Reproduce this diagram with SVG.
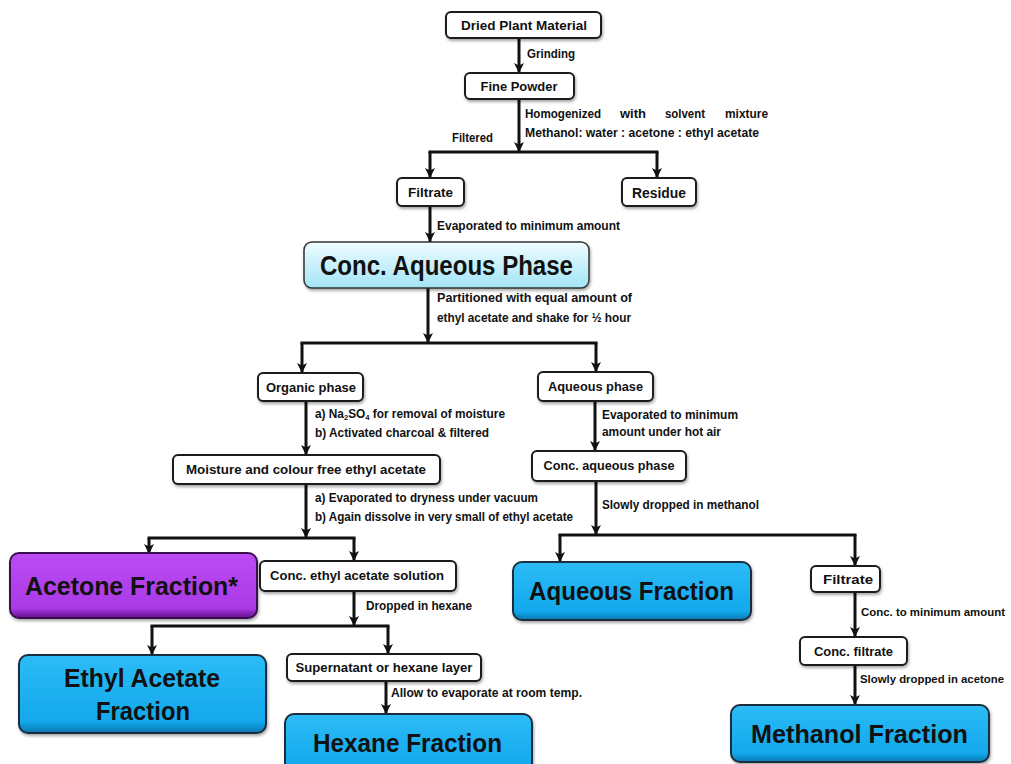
<svg xmlns="http://www.w3.org/2000/svg" width="1011" height="764" viewBox="0 0 1011 764">
<defs>
<style>
.box{fill:#fff;stroke:#1a1a1a;stroke-width:2}
.bt{font-family:"Liberation Sans",Arial,sans-serif;font-weight:bold;font-size:13px;fill:#111;text-anchor:middle}
.lb{font-family:"Liberation Sans",Arial,sans-serif;font-weight:bold;font-size:12.5px;fill:#111}
.big{font-family:"Liberation Sans",Arial,sans-serif;font-weight:bold;font-size:26px;fill:#111;text-anchor:middle}
.con{fill:none;stroke:#111;stroke-width:3}
.arr{marker-end:url(#ah)}
.blue{fill:url(#gBlue);stroke:#1b2f3d;stroke-width:2}
.purple{fill:url(#gPurple);stroke:#3a1050;stroke-width:2}
.cyan{fill:url(#gCyan);stroke:#333;stroke-width:1.5}
</style>
<linearGradient id="gBlue" x1="0" y1="0" x2="0" y2="1">
<stop offset="0" stop-color="#2dbcf6"/>
<stop offset="0.85" stop-color="#12a8ec"/>
<stop offset="1" stop-color="#0b78b0"/>
</linearGradient>
<linearGradient id="gPurple" x1="0" y1="0" x2="0" y2="1">
<stop offset="0" stop-color="#bd4cf4"/>
<stop offset="0.85" stop-color="#a93ae6"/>
<stop offset="1" stop-color="#64108c"/>
</linearGradient>
<linearGradient id="gCyan" x1="0" y1="0" x2="0" y2="1">
<stop offset="0" stop-color="#effcff"/>
<stop offset="1" stop-color="#a2e4f6"/>
</linearGradient>
<filter id="sh" x="-10%" y="-10%" width="130%" height="140%">
<feDropShadow dx="1" dy="2" stdDeviation="1.5" flood-color="#000" flood-opacity="0.35"/>
</filter>
<marker id="ah" markerUnits="userSpaceOnUse" markerWidth="11" markerHeight="11" refX="10" refY="5.5" orient="auto">
<path d="M0,0.5 L10,5.5 L0,10.5 L2.5,5.5 z" fill="#111"/>
</marker>
</defs>
<rect width="1011" height="764" fill="#fff"/>

<g id="connectors">
<path class="con arr" d="M519,38 V73"/>
<path class="con arr" d="M519,99 V152"/>
<path class="con" d="M428.5,152 H658.5"/>
<path class="con arr" d="M430,152 V178"/>
<path class="con arr" d="M657,152 V178"/>
<path class="con arr" d="M430,206 V242"/>
<path class="con arr" d="M428,288 V343"/>
<path class="con" d="M300.5,343 H597.5"/>
<path class="con arr" d="M302,343 V373"/>
<path class="con arr" d="M596,343 V372"/>
<path class="con arr" d="M306,401 V455"/>
<path class="con arr" d="M306,484 V538"/>
<path class="con" d="M147.5,538 H355.5"/>
<path class="con arr" d="M149,538 V554"/>
<path class="con arr" d="M354,538 V561"/>
<path class="con arr" d="M354,591 V626"/>
<path class="con" d="M150.5,626 H389.5"/>
<path class="con arr" d="M152,626 V655"/>
<path class="con arr" d="M388,626 V654"/>
<path class="con arr" d="M386,681 V714"/>
<path class="con arr" d="M595,401 V451"/>
<path class="con arr" d="M596,481 V535"/>
<path class="con" d="M558.5,535 H856.5"/>
<path class="con arr" d="M560,535 V562"/>
<path class="con arr" d="M855,535 V566"/>
<path class="con arr" d="M855,592 V637"/>
<path class="con arr" d="M855,665 V705"/>
</g>

<g id="edge-labels">
<text class="lb" x="527" y="58" textLength="48" lengthAdjust="spacingAndGlyphs">Grinding</text>
<text class="lb" x="525" y="118" textLength="76" lengthAdjust="spacingAndGlyphs">Homogenized</text>
<text class="lb" x="620" y="118" textLength="26" lengthAdjust="spacingAndGlyphs">with</text>
<text class="lb" x="665" y="118" textLength="40" lengthAdjust="spacingAndGlyphs">solvent</text>
<text class="lb" x="725" y="118" textLength="43" lengthAdjust="spacingAndGlyphs">mixture</text>
<text class="lb" x="525" y="137" textLength="234" lengthAdjust="spacingAndGlyphs">Methanol:  water : acetone : ethyl acetate</text>
<text class="lb" x="452" y="142" textLength="41" lengthAdjust="spacingAndGlyphs">Filtered</text>
<text class="lb" x="437" y="230" textLength="183" lengthAdjust="spacingAndGlyphs">Evaporated to minimum amount</text>
<text class="lb" x="437" y="302" textLength="195" lengthAdjust="spacingAndGlyphs">Partitioned with equal amount of</text>
<text class="lb" x="437" y="322" textLength="194" lengthAdjust="spacingAndGlyphs">ethyl acetate and shake for ½ hour</text>
<text class="lb" x="315" y="418" textLength="190" lengthAdjust="spacingAndGlyphs">a) Na<tspan font-size="8" dy="2">2</tspan><tspan dy="-2">SO</tspan><tspan font-size="8" dy="2">4</tspan><tspan dy="-2"> for removal of moisture</tspan></text>
<text class="lb" x="315" y="437" textLength="174" lengthAdjust="spacingAndGlyphs">b) Activated charcoal &amp; filtered</text>
<text class="lb" x="315" y="502" textLength="223" lengthAdjust="spacingAndGlyphs">a) Evaporated to dryness under vacuum</text>
<text class="lb" x="315" y="521" textLength="258" lengthAdjust="spacingAndGlyphs">b) Again dissolve in very small of ethyl acetate</text>
<text class="lb" x="366" y="610" textLength="106" lengthAdjust="spacingAndGlyphs">Dropped in hexane</text>
<text class="lb" x="391" y="697" textLength="191" lengthAdjust="spacingAndGlyphs">Allow to evaporate at room temp.</text>
<text class="lb" x="602" y="419" textLength="136" lengthAdjust="spacingAndGlyphs">Evaporated to minimum</text>
<text class="lb" x="602" y="436" textLength="119" lengthAdjust="spacingAndGlyphs">amount under hot air</text>
<text class="lb" x="602" y="509" textLength="157" lengthAdjust="spacingAndGlyphs">Slowly dropped in methanol</text>
<text class="lb" x="861" y="616" style="font-size:11px" textLength="144" lengthAdjust="spacingAndGlyphs">Conc. to minimum amount</text>
<text class="lb" x="860" y="683" style="font-size:11px" textLength="144" lengthAdjust="spacingAndGlyphs">Slowly dropped in acetone</text>
</g>

<g id="dried-plant-material">
<rect class="box" x="446" y="12" width="155" height="26" rx="5" filter="url(#sh)"/>
<text class="bt" x="524" y="30" textLength="126" lengthAdjust="spacingAndGlyphs">Dried Plant Material</text>
</g>
<g id="fine-powder">
<rect class="box" x="465" y="73" width="109" height="26" rx="5" filter="url(#sh)"/>
<text class="bt" x="519" y="91" textLength="77" lengthAdjust="spacingAndGlyphs">Fine Powder</text>
</g>
<g id="filtrate">
<rect class="box" x="397" y="178" width="67" height="28" rx="5" filter="url(#sh)"/>
<text class="bt" x="430.5" y="197" textLength="45" lengthAdjust="spacingAndGlyphs">Filtrate</text>
</g>
<g id="residue">
<rect class="box" x="622" y="178" width="74" height="28" rx="5" filter="url(#sh)"/>
<text class="bt" x="659" y="198" style="font-size:14px" textLength="54" lengthAdjust="spacingAndGlyphs">Residue</text>
</g>
<g id="conc-aqueous-phase">
<rect class="cyan" x="304" y="242" width="285" height="46" rx="8" filter="url(#sh)"/>
<text class="big" x="446.5" y="275" style="font-size:27px" textLength="253" lengthAdjust="spacingAndGlyphs">Conc. Aqueous Phase</text>
</g>
<g id="organic-phase">
<rect class="box" x="258" y="373" width="105" height="28" rx="5" filter="url(#sh)"/>
<text class="bt" x="311" y="392" textLength="90" lengthAdjust="spacingAndGlyphs">Organic  phase</text>
</g>
<g id="aqueous-phase">
<rect class="box" x="538" y="372" width="115" height="29" rx="5" filter="url(#sh)"/>
<text class="bt" x="595.5" y="391" textLength="95" lengthAdjust="spacingAndGlyphs">Aqueous phase</text>
</g>
<g id="moisture-free">
<rect class="box" x="173" y="455" width="267" height="29" rx="5" filter="url(#sh)"/>
<text class="bt" x="306" y="474" textLength="240" lengthAdjust="spacingAndGlyphs">Moisture and colour free ethyl acetate</text>
</g>
<g id="conc-aqueous-phase-2">
<rect class="box" x="532" y="451" width="154" height="30" rx="5" filter="url(#sh)"/>
<text class="bt" x="609" y="470" textLength="131" lengthAdjust="spacingAndGlyphs">Conc. aqueous phase</text>
</g>
<g id="acetone-fraction">
<rect class="purple" x="10" y="553" width="247" height="65" rx="9" filter="url(#sh)"/>
<text class="big" x="131.5" y="595" textLength="213" lengthAdjust="spacingAndGlyphs">Acetone Fraction*</text>
</g>
<g id="conc-ethyl-acetate-solution">
<rect class="box" x="260" y="561" width="196" height="30" rx="5" filter="url(#sh)"/>
<text class="bt" x="357" y="580" textLength="174" lengthAdjust="spacingAndGlyphs">Conc. ethyl acetate solution</text>
</g>
<g id="ethyl-acetate-fraction">
<rect class="blue" x="19" y="655" width="247" height="78" rx="9" filter="url(#sh)"/>
<text class="big" x="142" y="687" textLength="156" lengthAdjust="spacingAndGlyphs">Ethyl Acetate</text>
<text class="big" x="143" y="720" textLength="94" lengthAdjust="spacingAndGlyphs">Fraction</text>
</g>
<g id="supernatant">
<rect class="box" x="287" y="654" width="194" height="27" rx="5" filter="url(#sh)"/>
<text class="bt" x="384" y="672" textLength="177" lengthAdjust="spacingAndGlyphs">Supernatant or hexane layer</text>
</g>
<g id="hexane-fraction">
<rect class="blue" x="285" y="714" width="247" height="64" rx="9" filter="url(#sh)"/>
<text class="big" x="407.5" y="752" textLength="189" lengthAdjust="spacingAndGlyphs">Hexane Fraction</text>
</g>
<g id="aqueous-fraction">
<rect class="blue" x="513" y="562" width="238" height="58" rx="9" filter="url(#sh)"/>
<text class="big" x="631.5" y="600" textLength="205" lengthAdjust="spacingAndGlyphs">Aqueous Fraction</text>
</g>
<g id="filtrate-2">
<rect class="box" x="811" y="566" width="69" height="26" rx="5" filter="url(#sh)"/>
<text class="bt" x="848" y="584" textLength="50" lengthAdjust="spacingAndGlyphs">Filtrate</text>
</g>
<g id="conc-filtrate">
<rect class="box" x="800" y="637" width="107" height="28" rx="5" filter="url(#sh)"/>
<text class="bt" x="853.5" y="656" textLength="79" lengthAdjust="spacingAndGlyphs">Conc. filtrate</text>
</g>
<g id="methanol-fraction">
<rect class="blue" x="731" y="705" width="258" height="57" rx="9" filter="url(#sh)"/>
<text class="big" x="859.5" y="743" textLength="217" lengthAdjust="spacingAndGlyphs">Methanol Fraction</text>
</g>
</svg>
